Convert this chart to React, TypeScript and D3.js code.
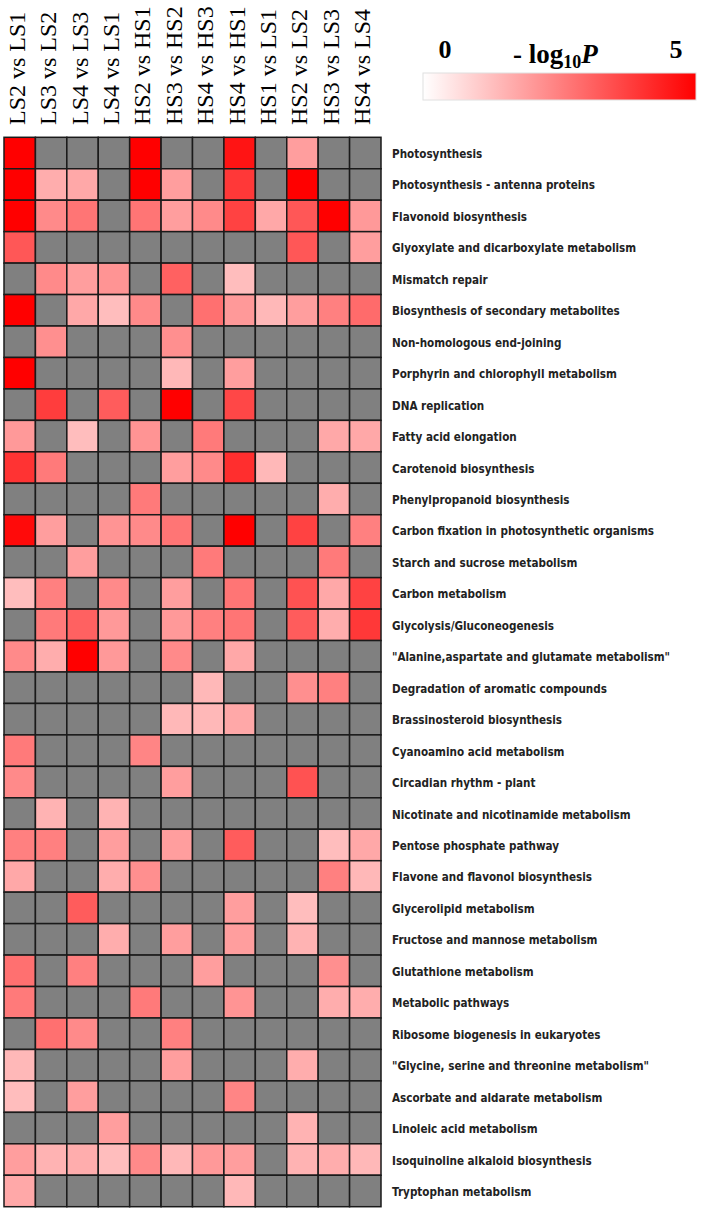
import React from 'react';
import * as d3 from 'd3';

// column comparisons
const comparisons = [
  'LS2 vs LS1', 'LS3 vs LS2', 'LS4 vs LS3', 'LS4 vs LS1',
  'HS2 vs HS1', 'HS3 vs HS2', 'HS4 vs HS3', 'HS4 vs HS1',
  'HS1 vs LS1', 'HS2 vs LS2', 'HS3 vs LS3', 'HS4 vs LS4',
];

// KEGG pathways (rows)
const pathways = [
  'Photosynthesis',
  'Photosynthesis - antenna proteins',
  'Flavonoid biosynthesis',
  'Glyoxylate and dicarboxylate metabolism',
  'Mismatch repair',
  'Biosynthesis of secondary metabolites',
  'Non-homologous end-joining',
  'Porphyrin and chlorophyll metabolism',
  'DNA replication',
  'Fatty acid elongation',
  'Carotenoid biosynthesis',
  'Phenylpropanoid biosynthesis',
  'Carbon fixation in photosynthetic organisms',
  'Starch and sucrose metabolism',
  'Carbon metabolism',
  'Glycolysis/Gluconeogenesis',
  '"Alanine,aspartate and glutamate metabolism"',
  'Degradation of aromatic compounds',
  'Brassinosteroid biosynthesis',
  'Cyanoamino acid metabolism',
  'Circadian rhythm - plant',
  'Nicotinate and nicotinamide metabolism',
  'Pentose phosphate pathway',
  'Flavone and flavonol biosynthesis',
  'Glycerolipid metabolism',
  'Fructose and mannose metabolism',
  'Glutathione metabolism',
  'Metabolic pathways',
  'Ribosome biogenesis in eukaryotes',
  '"Glycine, serine and threonine metabolism"',
  'Ascorbate and aldarate metabolism',
  'Linoleic acid metabolism',
  'Isoquinoline alkaloid biosynthesis',
  'Tryptophan metabolism',
];

const _ = null; // not enriched -> grey cell

// -log10 P, one row per pathway, one column per comparison
const logP: (number | null)[][] = [
  [5.0, _, _, _, 5.0, _, _, 4.6, _, 1.9, _, _],
  [5.0, 1.6, 1.7, _, 5.0, 1.9, _, 3.9, _, 5.0, _, _],
  [5.0, 2.3, 2.7, _, 2.7, 1.9, 2.3, 3.7, 1.7, 3.3, 5.0, 2.0],
  [3.3, _, _, _, _, _, _, _, _, 3.3, _, 1.9],
  [_, 2.3, 1.9, 2.1, _, 3.1, _, 1.3, _, _, _, _],
  [5.0, _, 1.7, 1.3, 2.3, _, 2.8, 2.0, 1.4, 1.9, 2.5, 2.9],
  [_, 2.2, _, _, _, 2.2, _, _, _, _, _, _],
  [5.0, _, _, _, _, 1.4, _, 1.9, _, _, _, _],
  [_, 3.8, _, 3.2, _, 5.0, _, 3.6, _, _, _, _],
  [2.0, _, 1.3, _, 2.1, _, 2.6, _, _, _, 1.7, 1.7],
  [4.0, 2.6, _, _, _, 1.9, 2.3, 4.1, 1.4, _, _, _],
  [_, _, _, _, 2.6, _, _, _, _, _, 1.6, _],
  [4.8, 1.9, _, 2.1, 2.3, 2.7, _, 5.0, _, 3.7, _, 2.5],
  [_, _, 1.9, _, _, _, 2.6, _, _, _, 2.6, _],
  [1.3, 2.5, _, 2.3, _, 1.9, _, 2.7, _, 3.4, 1.7, 3.7],
  [_, 2.6, 3.1, 2.0, _, 2.0, 2.5, 2.7, _, 3.2, 1.6, 3.9],
  [2.3, 1.6, 5.0, 2.0, _, 2.3, _, 1.7, _, _, _, _],
  [_, _, _, _, _, _, 1.4, _, _, 2.2, 2.5, _],
  [_, _, _, _, _, 1.4, 1.4, 1.7, _, _, _, _],
  [2.6, _, _, _, 2.4, _, _, _, _, _, _, _],
  [2.3, _, _, _, _, 1.9, _, _, _, 3.4, _, _],
  [_, 1.5, _, 1.5, _, _, _, _, _, _, _, _],
  [2.5, 2.5, _, 1.9, _, 1.9, _, 3.2, _, _, 1.3, 1.7],
  [1.7, _, _, 1.6, 2.2, _, _, _, _, _, 2.5, 1.4],
  [_, _, 3.2, _, _, _, _, 1.9, _, 1.3, _, _],
  [_, _, _, 1.6, _, 1.9, _, 1.9, _, 1.5, _, _],
  [2.8, _, 2.5, _, _, _, 1.9, _, _, _, 2.2, _],
  [2.6, _, _, _, 2.6, _, _, 2.1, _, _, 1.6, 1.6],
  [_, 2.8, 2.3, _, _, 2.5, _, _, _, _, _, _],
  [1.4, _, _, _, _, 1.9, _, _, _, 1.6, _, _],
  [1.3, _, 1.9, _, _, _, _, 2.4, _, _, _, _],
  [_, _, _, 1.9, _, _, _, _, _, 1.5, _, _],
  [1.9, 1.5, 1.6, 1.3, 2.3, 1.4, 2.0, 1.9, _, 1.5, 1.6, 1.4],
  [1.7, _, _, _, _, _, _, 1.4, _, _, _, _],
];

const legendTicks = [0, 5];

const W = 701;
const H = 1212;
const grid = { left: 4, right: 381, top: 137.3, bottom: 1206.7 };

export default function App() {
  const x = d3.scaleBand<string>().domain(comparisons).range([grid.left, grid.right]);
  const y = d3.scaleBand<string>().domain(pathways).range([grid.top, grid.bottom]);
  const color = d3.scaleLinear<string>().domain([0, 5]).range(['#ffffff', '#ff0000']).clamp(true);

  // legend bar
  const legend = { x0: 423, x1: 696, y: 73, h: 27 };
  const lx = d3.scaleLinear().domain([0, 5]).range([legend.x0 + 22, legend.x1 - 20]);

  return (
    <svg width={W} height={H} style={{ position: 'absolute', left: 0, top: 0, background: '#fff' }}>
      <defs>
        <linearGradient id="lg" x1="0" x2="1" y1="0" y2="0">
          <stop offset="0%" stopColor={color(0)} />
          <stop offset="100%" stopColor={color(5)} />
        </linearGradient>
      </defs>

      {/* column headers */}
      {comparisons.map((c) => {
        const cx = (x(c) ?? 0) + x.bandwidth() / 2 + 5;
        return (
          <text key={c} transform={`translate(${cx},125) rotate(-90)`}
            fontFamily="'Liberation Serif', 'Times New Roman', serif" fontSize={24} fill="#000">
            {c}
          </text>
        );
      })}

      {/* cells */}
      {pathways.map((p, i) =>
        comparisons.map((c, j) => {
          const v = logP[i][j];
          return (
            <rect key={p + c} x={x(c)} y={y(p)} width={x.bandwidth()} height={y.bandwidth()}
              fill={v == null ? '#808080' : color(v)} stroke="#1a1a1a" strokeWidth={1.5} />
          );
        })
      )}

      {/* row labels */}
      {pathways.map((p) => (
        <text key={p} transform={`translate(392,${(y(p) ?? 0) + y.bandwidth() / 2 + 5}) scale(0.87,1)`}
          fontFamily="'DejaVu Sans', Verdana, sans-serif" fontWeight="bold" fontSize={12} fill="#222">
          {p}
        </text>
      ))}

      {/* legend */}
      <rect x={legend.x0} y={legend.y} width={legend.x1 - legend.x0} height={legend.h}
        fill="url(#lg)" stroke="#e0e0e0" strokeWidth={1} />
      {legendTicks.map((t) => (
        <text key={t} x={lx(t)} y={58} textAnchor="middle"
          fontFamily="'Liberation Serif', 'Times New Roman', serif" fontWeight="bold" fontSize={26}>
          {t}
        </text>
      ))}
      <text x={513} y={63} fontFamily="'Liberation Serif', 'Times New Roman', serif" fontWeight="bold" fontSize={27}>
        - log<tspan fontSize={18} dy={5}>10</tspan><tspan dy={-5} fontStyle="italic">P</tspan>
      </text>
    </svg>
  );
}
